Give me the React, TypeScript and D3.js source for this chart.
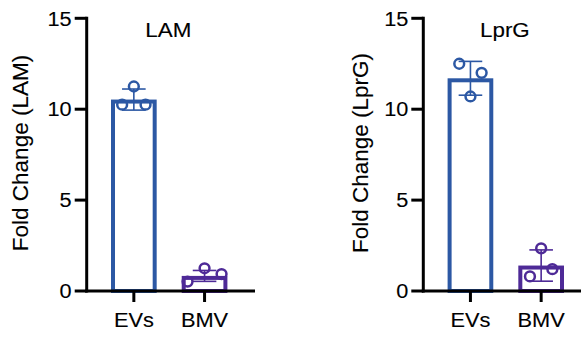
import React from "react";
import * as d3 from "d3";

const categories = ["EVs", "BMV"];
const panelTitles = ["LAM", "LprG"];
const yTitles = ["Fold Change (LAM)", "Fold Change (LprG)"];
const yTicks = [0, 5, 10, 15];
// bar means per panel [EVs, BMV]
const lamMeans = [10.53, 0.83];
const lprgMeans = [11.7, 1.4];
// SD per panel
const lamSD = [0.58, 0.3];
const lprgSD = [0.93, 0.86];
// replicate points, order: left, center, right
const lamEVs = [10.25, 11.25, 10.25];
const lamBMV = [0.52, 1.25, 0.93];
const lprgEVs = [12.5, 10.7, 12.0];
const lprgBMV = [0.8, 2.35, 1.2];

const colors = ["#2C58A4", "#4E2A97"];

const W = 581;
const H = 338;

type PanelProps = {
  x0: number;
  title: string;
  yTitle: string;
  means: number[];
  sd: number[];
  points: number[][];
  yTitleX: number;
  jitter: number[];
};

const FONT = "Liberation Sans, Arial, sans-serif";
const TXT = { fill: "black", stroke: "black", strokeWidth: 0.12 };

function Panel({ x0, title, yTitle, means, sd, points, yTitleX, jitter }: PanelProps) {
  const y = d3.scaleLinear().domain([0, 15]).range([291, 18.3]);
  const x = d3
    .scaleBand<string>()
    .domain(categories)
    .range([x0 + 24.3, x0 + 140.7])
    .paddingInner(0.354)
    .paddingOuter(0);
  const bw = x.bandwidth();
  const sw = 4;
  const axisEnd = x0 + 168.3;
  return (
    <g>
      {categories.map((c, i) => (
        <rect
          key={c}
          x={(x(c) as number) + sw / 2}
          y={y(means[i]) + sw / 2}
          width={bw - sw}
          height={y(0) - y(means[i]) - sw / 2}
          fill="white"
          stroke={colors[i]}
          strokeWidth={sw}
        />
      ))}
      {categories.map((c, i) =>
        points[i].map((v, j) => (
          <circle
            key={c + j}
            cx={(x(c) as number) + bw / 2 + (j - 1) * jitter[i]}
            cy={y(v)}
            r={4.9}
            fill="none"
            stroke={colors[i]}
            strokeWidth={2.5}
          />
        ))
      )}
      {categories.map((c, i) => {
        const cx = (x(c) as number) + bw / 2;
        const hi = y(means[i] + sd[i]);
        const lo = y(Math.max(0, means[i] - sd[i]));
        return (
          <g key={c} stroke={colors[i]} strokeWidth={1.6}>
            <line x1={cx} x2={cx} y1={hi} y2={lo} />
            <line x1={cx - 11.8} x2={cx + 11.8} y1={hi} y2={hi} />
            <line x1={cx - 11.8} x2={cx + 11.8} y1={lo} y2={lo} />
          </g>
        );
      })}
      <line x1={x0} x2={x0} y1={y(15) - 1.5} y2={y(0) + 1.5} stroke="black" strokeWidth={3} />
      {yTicks.map((t) => (
        <g key={t}>
          <line x1={x0 - 12} x2={x0} y1={y(t)} y2={y(t)} stroke="black" strokeWidth={3} />
          <text
            transform={`translate(${x0 - 15},${y(t) + 7.2}) scale(1.06,1)`}
            textAnchor="end"
            fontFamily={FONT}
            fontSize={20.5}
            {...TXT}
          >
            {t}
          </text>
        </g>
      ))}
      <line x1={x0 - 1.5} x2={axisEnd} y1={y(0)} y2={y(0)} stroke="black" strokeWidth={3} />
      {categories.map((c) => {
        const cx = (x(c) as number) + bw / 2;
        return (
          <g key={c}>
            <line x1={cx} x2={cx} y1={y(0)} y2={y(0) + 11} stroke="black" strokeWidth={3} />
            <text
              transform={`translate(${cx},${327}) scale(1.1,1)`}
              textAnchor="middle"
              fontFamily={FONT}
              fontSize={19.8}
              {...TXT}
            >
              {c}
            </text>
          </g>
        );
      })}
      <text
        transform={`translate(${x0 + 81.6},${37}) scale(1.12,1)`}
        textAnchor="middle"
        fontFamily={FONT}
        fontSize={20}
        {...TXT}
      >
        {title}
      </text>
      <text
        transform={`translate(${yTitleX},${153}) rotate(-90)`}
        textAnchor="middle"
        fontFamily={FONT}
        fontSize={22.5}
        {...TXT}
      >
        {yTitle}
      </text>
    </g>
  );
}

export default function App() {
  return (
    <svg
      width={W}
      height={H}
      style={{ position: "absolute", left: 0, top: 0, background: "white" }}
    >
      <rect width={W} height={H} fill="white" />
      <Panel
        x0={86.7}
        title={panelTitles[0]}
        yTitle={yTitles[0]}
        means={lamMeans}
        sd={lamSD}
        points={[lamEVs, lamBMV]}
        yTitleX={27.5}
        jitter={[11.7, 17]}
      />
      <Panel
        x0={423.3}
        title={panelTitles[1]}
        yTitle={yTitles[1]}
        means={lprgMeans}
        sd={lprgSD}
        points={[lprgEVs, lprgBMV]}
        yTitleX={367.5}
        jitter={[11.2, 11.2]}
      />
    </svg>
  );
}
